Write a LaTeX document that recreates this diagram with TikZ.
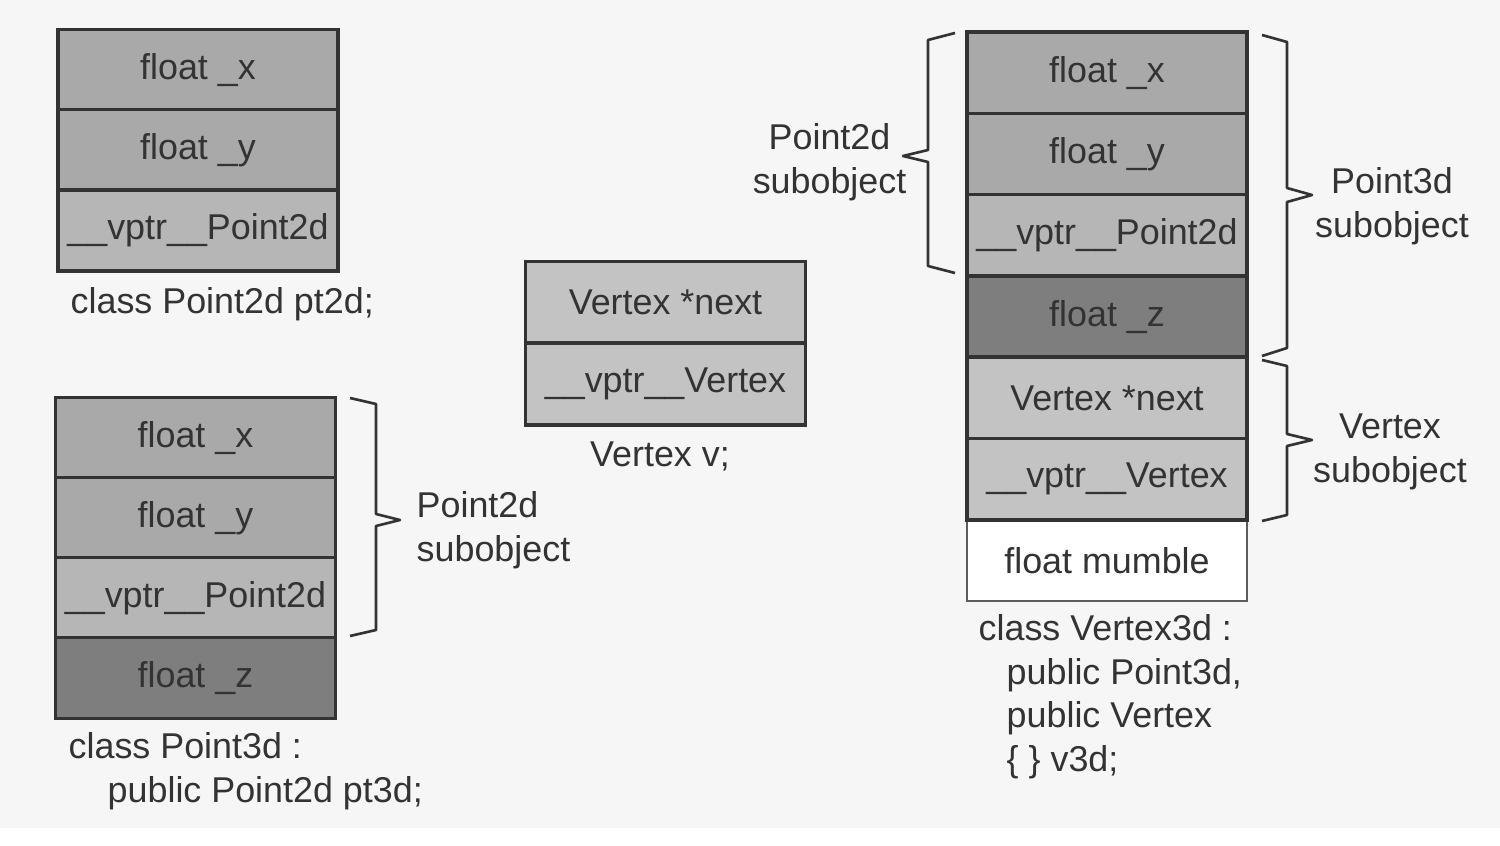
\documentclass[tikz,border=0pt]{standalone}
\usepackage{fontspec}
\setmainfont{Liberation Sans}
\definecolor{bgpaper}{HTML}{F6F6F6}
\definecolor{inkgrey}{HTML}{333333}
\definecolor{fieldxy}{HTML}{A9A9A9}
\definecolor{fieldvptr}{HTML}{B6B6B6}
\definecolor{fieldz}{HTML}{7E7E7E}
\definecolor{fieldvtx}{HTML}{C3C3C3}
\tikzset{
  cell/.style={draw=inkgrey, line width=1pt, rectangle, minimum width=2.8cm,
    minimum height=0.81cm, inner sep=0pt, outer sep=0pt, text=inkgrey,
    font=\fontsize{10.2}{12.4}\selectfont},
  cellxy/.style={cell, fill=fieldxy},
  cellvptr/.style={cell, fill=fieldvptr},
  cellz/.style={cell, fill=fieldz},
  cellvtx/.style={cell, fill=fieldvtx},
  cellplain/.style={cell, fill=white, draw=inkgrey!80, line width=0.6pt},
  caption/.style={text=inkgrey, inner sep=0pt, align=left,
    font=\fontsize{10.2}{12.4}\selectfont},
  bracelabel/.style={text=inkgrey, inner sep=0pt,
    font=\fontsize{10.2}{12.4}\selectfont},
  braceline/.style={draw=inkgrey, line width=0.75pt, line join=round}
}
\begin{document}
\begin{tikzpicture}[x=0.01cm, y=-0.01cm]
        \useasboundingbox (0,0) rectangle (1500,846);
        \fill[white] (0,0) rectangle (1500,846);
        \fill[bgpaper] (0,0) rectangle (1500,828);

        % class Point2d pt2d
        \node[cellxy] (a1) at (198, 70) {float \_x};
        \node[cellxy] (a2) at (198, 150) {float \_y};
        \node[cellvptr] (a3) at (198, 230.5) {\_\_vptr\_\_Point2d};
        \node[caption, anchor=base west] (acap) at (70, 314) {class Point2d pt2d;};

        % class Point3d pt3d
        \node[cellxy] (b1) at (195.5, 438) {float \_x};
        \node[cellxy] (b2) at (195.5, 518) {float \_y};
        \node[cellvptr] (b3) at (195.5, 598) {\_\_vptr\_\_Point2d};
        \node[cellz] (b4) at (195.5, 678) {float \_z};
        \node[caption, anchor=north west] (bcap) at (68, 732)
            {class Point3d :\\\hspace*{0.39cm}public Point2d pt3d;};
        \draw[braceline] (350,398) -- (376,404) -- (376,514) -- (400,520)
            -- (376,526) -- (376,630) -- (350,636);
        \node[bracelabel, align=left, anchor=west] (blab) at (416, 530) {Point2d\\subobject};

        % Vertex v
        \node[cellvtx, minimum height=0.815cm] (c1) at (665.5, 302.5) {Vertex *next};
        \node[cellvtx, minimum height=0.815cm] (c2) at (665.5, 384) {\_\_vptr\_\_Vertex};
        \node[caption, anchor=base] (ccap) at (660, 467) {Vertex v;};

        % class Vertex3d v3d
        \node[cellxy, minimum height=0.813cm] (d1) at (1107, 72.6) {float \_x};
        \node[cellxy, minimum height=0.813cm] (d2) at (1107, 154) {float \_y};
        \node[cellvptr, minimum height=0.813cm] (d3) at (1107, 235.3) {\_\_vptr\_\_Point2d};
        \node[cellz, minimum height=0.813cm] (d4) at (1107, 316.6) {float \_z};
        \node[cellvtx, minimum height=0.813cm] (d5) at (1107, 397.9) {Vertex *next};
        \node[cellplain, minimum height=0.803cm] (d7) at (1107, 560.5) {float mumble};
        \node[cellvtx, minimum height=0.813cm] (d6) at (1107, 479.2) {\_\_vptr\_\_Vertex};
        \node[caption, anchor=north west] (dcap) at (978, 614)
            {class Vertex3d :\\\hspace*{0.28cm}public Point3d,\\\hspace*{0.28cm}public Vertex\\\hspace*{0.28cm}\{ \} v3d;};

        \draw[braceline] (955,33) -- (928,40) -- (928,150) -- (903,156)
            -- (928,162) -- (928,266) -- (955,273);
        \node[bracelabel, align=center, anchor=east] (dlab1) at (907, 162) {Point2d\\subobject};

        \draw[braceline] (1262,35) -- (1287,42) -- (1287,188) -- (1312,195)
            -- (1287,202) -- (1287,348) -- (1262,356);
        \node[bracelabel, align=center] (dlab2) at (1392, 206) {Point3d\\subobject};

        \draw[braceline] (1262,360) -- (1287,366) -- (1287,434) -- (1312,440)
            -- (1287,446) -- (1287,515) -- (1262,521);
        \node[bracelabel, align=center] (dlab3) at (1390, 452) {Vertex\\subobject};

    \end{tikzpicture}
\end{document}
